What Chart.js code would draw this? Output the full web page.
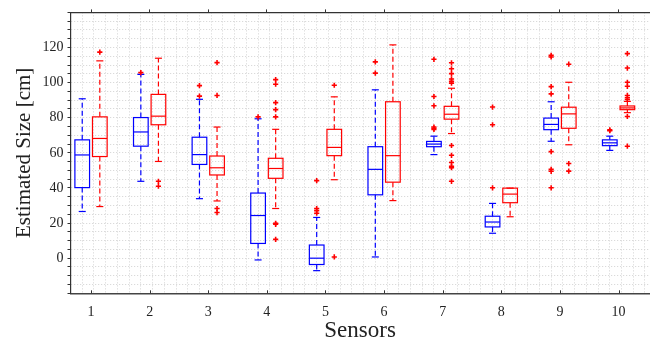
<!DOCTYPE html>
<html>
<head>
<meta charset="utf-8">
<script src="https://cdn.jsdelivr.net/npm/chart.js@4/dist/chart.umd.min.js"></script>
<style>
  html, body { margin: 0; padding: 0; background: #ffffff; }
  #wrap { width: 656px; height: 345px; }
</style>
</head>
<body>
<div id="wrap"><canvas id="c" width="656" height="345"></canvas></div>
<script>
// Sensor indices on the x axis
const sensors = [1, 2, 3, 4, 5, 6, 7, 8, 9, 10];
const yTickLabels = [0, 20, 40, 60, 80, 100, 120];

// Blue series: five-number summary per sensor (cm)
const blueLow    = [26.6, 43.8, 33.9, -1.0, -7.1,  0.7, 59.0, 14.2, 66.6, 61.4];
const blueQ1     = [40.2, 63.8, 53.4,  8.4, -3.6, 36.1, 63.5, 17.8, 73.2, 64.1];
const blueMedian = [58.8, 71.9, 59.0, 24.3,  0.0, 50.6, 65.0, 20.6, 76.2, 65.7];
const blueQ3     = [67.4, 80.1, 68.9, 37.1,  7.5, 63.5, 66.5, 23.9, 79.8, 67.4];
const blueHigh   = [90.8, 104.7, 90.5, 79.4, 23.2, 95.9, 69.5, 31.2, 89.1, 69.5];
const blueOutliers = [
  [],
  [105.7],
  [98.3, 92.3],
  [80.5],
  [44.2, 28.3, 27.1, 25.6],
  [111.8, 105.4],
  [113.3, 92.1, 86.8, 74.7, 74.0, 73.3],
  [86.1, 76.0, 40.1],
  [115.5, 114.6, 97.7, 93.6, 60.7, 50.6, 49.5, 40.1],
  [73.1, 72.6]
];

// Red series: five-number summary per sensor (cm)
const redLow    = [29.4, 55.1, 32.6, 28.3, 44.7, 32.8, 71.0, 23.6, 64.6, 82.9];
const redQ1     = [57.9, 76.0, 47.4, 45.5, 58.4, 43.3, 79.2, 31.6, 74.0, 84.6];
const redMedian = [68.2, 80.9, 51.5, 51.1, 63.1, 58.4, 82.0, 36.5, 82.2, 85.6];
const redQ3     = [80.5, 93.3, 58.2, 56.9, 73.4, 89.1, 86.5, 39.9, 86.0, 86.7];
const redHigh   = [112.4, 113.9, 74.7, 73.4, 91.9, 121.5, 96.8, 39.9, 100.2, 89.3];
const redOutliers = [
  [117.4],
  [43.8, 41.0],
  [111.4, 92.7, 28.3, 26.0],
  [101.7, 99.1, 88.6, 84.6, 80.5, 19.9, 19.3, 10.7],
  [98.5, 0.7],
  [],
  [111.3, 107.9, 105.1, 102.1, 100.8, 99.7, 64.2, 58.6, 54.5, 52.3, 51.5, 43.8],
  [],
  [110.5, 53.9, 49.6],
  [116.5, 108.3, 100.2, 97.9, 92.7, 91.4, 90.4, 80.7, 63.8]
];

const BLUE = '#0000ff';
const RED = '#ff0000';
const FONT = "'Liberation Serif', 'DejaVu Serif', serif";

const groups = [
  { color: BLUE, offset: -0.15, low: blueLow, q1: blueQ1, med: blueMedian, q3: blueQ3, high: blueHigh, out: blueOutliers },
  { color: RED,  offset:  0.15, low: redLow,  q1: redQ1,  med: redMedian,  q3: redQ3,  high: redHigh,  out: redOutliers }
];
const BOX_HALF = 0.125;
const CAP_HALF = 0.06;

// Outlier points, all drawn as red plus signs
const outlierPoints = [];
groups.forEach(g => {
  sensors.forEach((s, i) => {
    g.out[i].forEach(v => outlierPoints.push({ x: s + g.offset, y: v }));
  });
});

// Box, whisker and median drawing on top of the library scales
const boxPlotPlugin = {
  id: 'boxPlot',
  beforeDatasetsDraw(chart) {
    const { ctx, scales: { x, y } } = chart;
    const line = (x1, y1, x2, y2) => {
      ctx.beginPath();
      ctx.moveTo(x1, y1);
      ctx.lineTo(x2, y2);
      ctx.stroke();
    };
    ctx.save();
    ctx.lineWidth = 1.2;
    groups.forEach(g => {
      ctx.strokeStyle = g.color;
      sensors.forEach((s, i) => {
        const c = s + g.offset;
        const px = x.getPixelForValue(c);
        const xl = x.getPixelForValue(c - BOX_HALF);
        const xr = x.getPixelForValue(c + BOX_HALF);
        const cl = x.getPixelForValue(c - CAP_HALF);
        const cr = x.getPixelForValue(c + CAP_HALF);
        const pLow = y.getPixelForValue(g.low[i]);
        const pQ1 = y.getPixelForValue(g.q1[i]);
        const pMed = y.getPixelForValue(g.med[i]);
        const pQ3 = y.getPixelForValue(g.q3[i]);
        const pHigh = y.getPixelForValue(g.high[i]);
        // dashed whiskers
        ctx.setLineDash([5, 3]);
        if (pHigh < pQ3) line(px, pQ3, px, pHigh);
        if (pLow > pQ1) line(px, pQ1, px, pLow);
        ctx.setLineDash([]);
        // caps
        line(cl, pHigh, cr, pHigh);
        line(cl, pLow, cr, pLow);
        // box and median
        ctx.strokeRect(xl, pQ3, xr - xl, pQ1 - pQ3);
        line(xl, pMed, xr, pMed);
      });
    });
    ctx.restore();
  },
  afterDraw(chart) {
    // short inward tick marks on the bottom axis
    const { ctx, scales: { x }, chartArea } = chart;
    ctx.save();
    ctx.strokeStyle = '#333333';
    ctx.lineWidth = 1;
    sensors.forEach(s => {
      const px = Math.round(x.getPixelForValue(s)) + 0.5;
      ctx.beginPath();
      ctx.moveTo(px, chartArea.bottom);
      ctx.lineTo(px, chartArea.bottom - 3);
      ctx.stroke();
    });
    ctx.restore();
  }
};

const X_MIN = 0.65, X_MAX = 10.53;
const minorX = [];
for (let v = 0.85; v < X_MAX; v += 0.2) minorX.push(Math.round(v * 100) / 100);

const GRID = '#d2d2d2';

new Chart(document.getElementById('c'), {
  type: 'scatter',
  data: {
    datasets: [{
      label: 'Outliers',
      data: outlierPoints,
      pointStyle: 'cross',
      pointRadius: 2.6,
      pointBorderWidth: 1.6,
      borderColor: RED,
      backgroundColor: RED
    }]
  },
  options: {
    responsive: false,
    devicePixelRatio: 1,
    animation: false,
    layout: { padding: { left: 0, right: 0, top: 0, bottom: 0 } },
    plugins: { legend: { display: false }, tooltip: { enabled: false } },
    scales: {
      x: {
        type: 'linear',
        position: 'bottom',
        min: X_MIN,
        max: X_MAX,
        afterBuildTicks(scale) {
          scale.ticks = sensors.concat(minorX).sort((a, b) => a - b).map(v => ({ value: v }));
        },
        afterFit(scale) { scale.height = 51.7; },
        ticks: {
          autoSkip: false,
          maxRotation: 0,
          padding: 11,
          color: '#222222',
          font: { family: FONT, size: 14 },
          callback: v => (Number.isInteger(v) ? String(v) : '')
        },
        grid: {
          drawTicks: false,
          color: ctx => (ctx.tick && Number.isInteger(ctx.tick.value) ? 'rgba(0,0,0,0)' : GRID),
          lineWidth: 1
        },
        border: { display: true, color: '#444444', width: 1.5, dash: [1, 2] },
        title: {
          display: true,
          text: 'Sensors',
          color: '#222222',
          font: { family: FONT, size: 23 },
          padding: { top: 0, bottom: 0 }
        }
      },
      x2: {
        type: 'linear',
        position: 'top',
        min: X_MIN,
        max: X_MAX,
        afterBuildTicks(scale) {
          scale.ticks = sensors.map(v => ({ value: v }));
        },
        afterFit(scale) { scale.height = 9.3; },
        ticks: { display: false },
        grid: { drawOnChartArea: false, drawTicks: true, tickLength: 3, tickColor: '#333333' },
        border: { display: true, color: '#333333', width: 1.2 }
      },
      y: {
        type: 'linear',
        position: 'left',
        min: -20,
        max: 140,
        afterFit(scale) { scale.width = 70.5; },
        ticks: {
          stepSize: 5,
          autoSkip: false,
          padding: 4,
          color: '#222222',
          font: { family: FONT, size: 14 },
          callback: v => (yTickLabels.includes(v) ? String(v) : '')
        },
        grid: {
          color: GRID,
          lineWidth: 1,
          drawTicks: true,
          tickLength: 3,
          tickColor: '#333333'
        },
        border: { display: true, color: '#333333', width: 1.2, dash: [1, 2] },
        title: {
          display: true,
          text: 'Estimated Size [cm]',
          color: '#222222',
          font: { family: FONT, size: 21 },
          padding: { top: 12, bottom: 0 }
        }
      }
    }
  },
  plugins: [boxPlotPlugin]
});
</script>
</body>
</html>
